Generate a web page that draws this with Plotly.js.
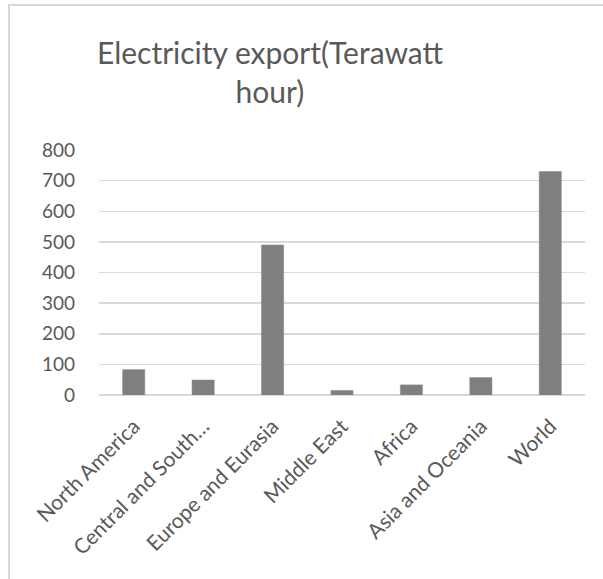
<!DOCTYPE html>
<html>
<head>
<meta charset="utf-8">
<script src="https://cdn.plot.ly/plotly-3.0.1.min.js"></script>
<style>
html,body{margin:0;padding:0;background:#fff;}
#wrap{position:relative;width:603px;height:579px;overflow:hidden;}
#chart{width:603px;height:579px;}
#frame{position:absolute;left:8px;top:4px;width:700px;height:700px;border-left:2px solid #d9d9d9;border-top:2px solid #d9d9d9;pointer-events:none;}
</style>
</head>
<body>
<div id="wrap">
<div id="chart"></div>
<div id="frame"></div>
</div>
<script>
const categories = ["North America", "Central and South…", "Europe and Eurasia", "Middle East", "Africa", "Asia and Oceania", "World"];
const exportTWh = [83, 49, 490, 15, 33, 57, 730];
const yTicks = [0, 100, 200, 300, 400, 500, 600, 700, 800];

const L = 99, R = 18, T = 150, B = 184;
const W = 603 - L - R;
const px = v => (v - L) / W;

const trace = {
  type: 'bar',
  x: categories,
  y: exportTWh,
  marker: {color: '#7f7f7f', line: {color: '#8c8c8c', width: 0.5}},
  hoverinfo: 'x+y'
};

const layout = {
  width: 603, height: 579,
  margin: {l: L, r: R, t: T, b: B},
  paper_bgcolor: 'rgba(0,0,0,0)',
  plot_bgcolor: 'rgba(0,0,0,0)',
  showlegend: false,
  bargap: 0.68,
  font: {family: 'Lato, "Open Sans", sans-serif', color: '#595959'},
  title: {
    text: 'Electricity export(Terawatt<br>hour)',
    font: {family: 'Lato, "Open Sans", sans-serif', size: 30, color: '#595959'},
    x: px(270), xref: 'paper', xanchor: 'center',
    y: 1 - 64 / 579, yref: 'container', yanchor: 'top'
  },
  xaxis: {
    type: 'category',
    tickangle: -45,
    tickfont: {size: 21, color: '#595959'},
    showgrid: false,
    showline: false,
    ticks: '',
    zeroline: false,
    ticklabelstandoff: 14
  },
  yaxis: {
    range: [0, 800],
    tickvals: yTicks,
    ticktext: yTicks.map(String),
    tickfont: {size: 19, color: '#595959'},
    showgrid: true,
    gridcolor: '#d9d9d9',
    gridwidth: 1.5,
    zeroline: true,
    zerolinecolor: '#d9d9d9',
    zerolinewidth: 1.5,
    showline: false,
    ticks: '',
    ticklabelstandoff: 23
  }
};

Plotly.newPlot('chart', [trace], layout, {displayModeBar: false, staticPlot: true});
</script>
</body>
</html>
